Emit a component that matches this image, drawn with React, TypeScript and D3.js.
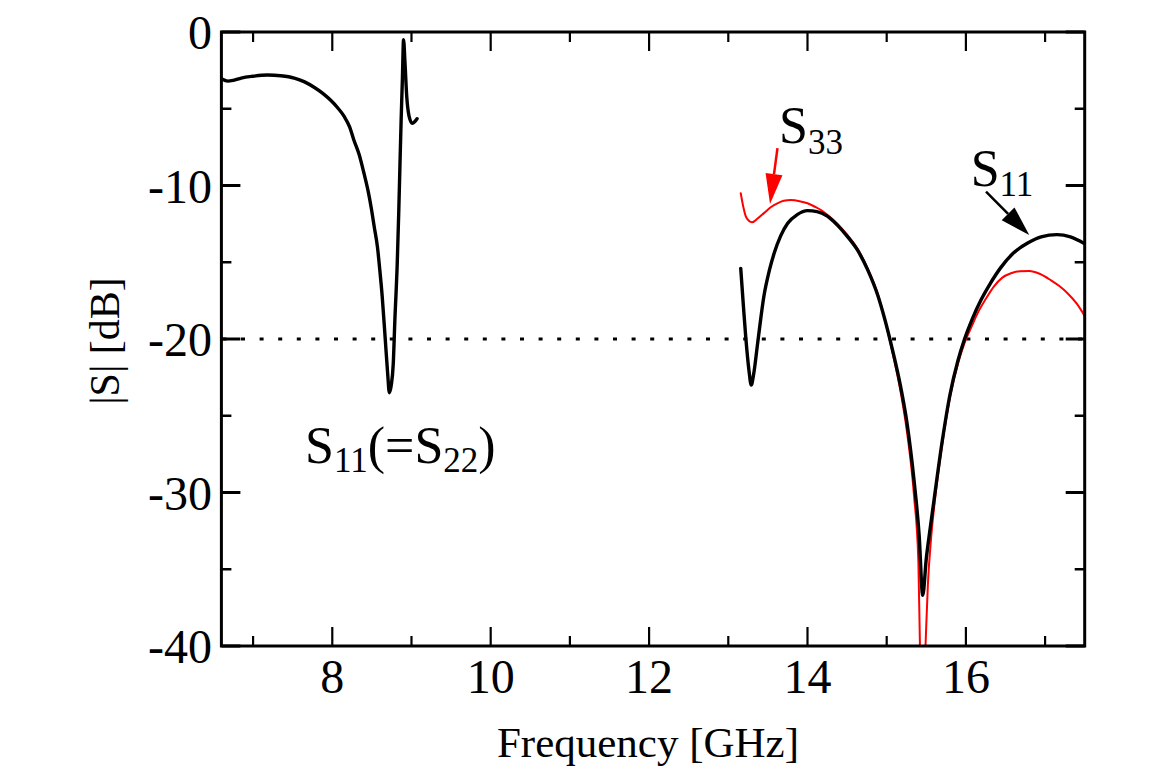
import React from 'react';
import * as d3 from 'd3';

// ---- axis definitions ----
const FREQ_DOMAIN: [number, number] = [6.6, 17.5];
const DB_DOMAIN: [number, number] = [-40, 0];
const X_MAJOR_TICKS = [8, 10, 12, 14, 16];
const X_MINOR_TICKS = [7, 9, 11, 13, 15, 17];
const Y_MAJOR_TICKS = [0, -10, -20, -30, -40];
const Y_MINOR_TICKS = [-5, -15, -25, -35];
const REF_LEVEL = -20;

// ---- S11 (=S22), low band ----
const s11LowFreq = [6.60, 6.68, 6.75, 6.85, 7.0, 7.18, 7.35, 7.52, 7.65, 7.77, 7.88, 7.98, 8.07, 8.15, 8.22, 8.27, 8.34, 8.40, 8.45, 8.49, 8.53, 8.57, 8.60, 8.63, 8.67, 8.70, 8.72, 8.745, 8.77, 8.79, 8.82, 8.84, 8.855, 8.87, 8.885, 8.90, 8.918, 8.94, 8.97, 9.01, 9.04, 9.07];
const s11LowDb = [-3.05, -3.2, -3.15, -3.0, -2.88, -2.8, -2.85, -3.0, -3.25, -3.6, -4.0, -4.45, -4.95, -5.5, -6.2, -7.0, -8.0, -9.2, -10.3, -11.4, -12.7, -14.0, -15.5, -17.2, -20.1, -22.3, -23.5, -23.0, -21.6, -18.8, -15.1, -11.6, -8.55, -5.6, -3.1, -0.5, -2.0, -4.2, -5.5, -5.95, -5.85, -5.65];

// ---- S11, high band ----
const s11HighFreq = [13.157, 13.19, 13.22, 13.26, 13.29, 13.32, 13.37, 13.45, 13.52, 13.58, 13.66, 13.75, 13.87, 14.0, 14.12, 14.25, 14.38, 14.5, 14.63, 14.76, 14.89, 14.97, 15.04, 15.10, 15.16, 15.26, 15.345, 15.41, 15.455, 15.50, 15.55, 15.60, 15.70, 15.80, 15.90, 15.98, 16.08, 16.19, 16.30, 16.44, 16.60, 16.78, 16.95, 17.15, 17.32, 17.5];
const s11HighDb = [-15.4, -17.8, -19.85, -22.0, -23.0, -22.3, -20.3, -17.2, -15.5, -14.4, -13.3, -12.46, -11.9, -11.64, -11.7, -12.0, -12.6, -13.3, -14.2, -15.5, -17.2, -18.6, -20.0, -21.3, -22.7, -25.6, -29.2, -32.8, -36.7, -34.3, -32.3, -30.4, -26.7, -23.6, -21.4, -20.05, -18.7, -17.46, -16.45, -15.35, -14.4, -13.75, -13.35, -13.2, -13.35, -13.8];

// ---- S33 ----
const s33Freq = [13.157, 13.19, 13.22, 13.26, 13.30, 13.37, 13.45, 13.54, 13.62, 13.70, 13.79, 13.90, 14.0, 14.1, 14.17, 14.25, 14.38, 14.5, 14.63, 14.76, 14.89, 14.97, 15.04, 15.10, 15.16, 15.26, 15.345, 15.40, 15.42, 15.455, 15.49, 15.52, 15.56, 15.60, 15.70, 15.80, 15.90, 15.98, 16.08, 16.15, 16.25, 16.35, 16.46, 16.57, 16.68, 16.80, 16.93, 17.07, 17.18, 17.28, 17.4, 17.5];
const s33Db = [-10.5, -11.4, -12.0, -12.3, -12.4, -12.15, -11.8, -11.4, -11.16, -11.0, -10.95, -11.02, -11.16, -11.4, -11.6, -11.9, -12.5, -13.2, -14.1, -15.4, -17.1, -18.6, -20.1, -21.5, -23.0, -26.2, -30.2, -34.5, -40.0, -45.0, -40.0, -36.0, -33.0, -30.9, -26.9, -23.8, -21.6, -20.3, -19.1, -18.3, -17.4, -16.6, -16.0, -15.72, -15.58, -15.57, -15.75, -16.16, -16.55, -17.0, -17.7, -18.5];

export default function App() {
  const W = 1156, H = 769;
  const x = d3.scaleLinear().domain(FREQ_DOMAIN).range([221.4, 1084.7]);
  const y = d3.scaleLinear().domain(DB_DOMAIN).range([646, 32]);
  const [x0, x1] = x.range();
  const [y0, y1] = [y(0), y(-40)];

  const line = d3.line<[number, number]>()
    .x(d => x(d[0]))
    .y(d => y(d[1]))
    .curve(d3.curveMonotoneX);

  const zip = (a: number[], b: number[]) => a.map((v, i) => [v, b[i]] as [number, number]);

  const major = 19, minor = 10;
  const serif = '"Liberation Serif", "Times New Roman", serif';

  const arrowHead = (sx: number, sy: number, tx: number, ty: number, len: number, wid: number) => {
    const dx = tx - sx, dy = ty - sy;
    const L = Math.hypot(dx, dy);
    const ux = dx / L, uy = dy / L;
    const bx = tx - ux * len, by = ty - uy * len;
    const px = -uy * wid / 2, py = ux * wid / 2;
    return {
      base: [bx, by],
      pts: `${tx},${ty} ${bx + px},${by + py} ${bx - px},${by - py}`,
    };
  };

  // annotation arrows (in data coordinates)
  const redA = { s: [13.621, -7.56], t: [13.527, -11.2] };
  const blkA = { s: [16.254, -10.4], t: [16.80, -13.23] };
  const rA = arrowHead(x(redA.s[0]), y(redA.s[1]), x(redA.t[0]), y(redA.t[1]), 30, 17);
  const bA = arrowHead(x(blkA.s[0]), y(blkA.s[1]), x(blkA.t[0]), y(blkA.t[1]), 30, 18);

  return (
    <svg width={W} height={H} style={{ position: 'absolute', left: 0, top: 0, background: '#fff' }}
      fontFamily={serif}>
      <defs>
        <clipPath id="plotClip">
          <rect x={x0} y={y0} width={x1 - x0} height={y1 - y0} />
        </clipPath>
      </defs>

      {/* reference dotted line */}
      <line x1={x0} x2={x1} y1={y(REF_LEVEL)} y2={y(REF_LEVEL)} stroke="#000" strokeWidth={3}
        strokeDasharray="4 14.6" strokeDashoffset={-1} />

      {/* curves */}
      <g clipPath="url(#plotClip)" fill="none" strokeLinejoin="round" strokeLinecap="round">
        <path d={line(zip(s33Freq, s33Db)) || ''} stroke="#ff0000" strokeWidth={2} />
        <path d={line(zip(s11LowFreq, s11LowDb)) || ''} stroke="#000" strokeWidth={3.4} />
        <path d={line(zip(s11HighFreq, s11HighDb)) || ''} stroke="#000" strokeWidth={3.4} />
      </g>

      {/* frame */}
      <rect x={x0} y={y0} width={x1 - x0} height={y1 - y0} fill="none" stroke="#000" strokeWidth={3} />

      {/* x ticks bottom and top */}
      {X_MAJOR_TICKS.map(t => (
        <g key={'xm' + t}>
          <line x1={x(t)} x2={x(t)} y1={y1} y2={y1 - major} stroke="#000" strokeWidth={2.2} />
          <line x1={x(t)} x2={x(t)} y1={y0} y2={y0 + major} stroke="#000" strokeWidth={2.2} />
          <text x={x(t)} y={693} textAnchor="middle" fontSize={48} fill="#000">{t}</text>
        </g>
      ))}
      {X_MINOR_TICKS.map(t => (
        <g key={'xn' + t}>
          <line x1={x(t)} x2={x(t)} y1={y1} y2={y1 - minor} stroke="#000" strokeWidth={2.2} />
          <line x1={x(t)} x2={x(t)} y1={y0} y2={y0 + minor} stroke="#000" strokeWidth={2.2} />
        </g>
      ))}

      {/* y ticks left and right */}
      {Y_MAJOR_TICKS.map(t => (
        <g key={'ym' + t}>
          <line x1={x0} x2={x0 + major} y1={y(t)} y2={y(t)} stroke="#000" strokeWidth={3} />
          <line x1={x1} x2={x1 - major} y1={y(t)} y2={y(t)} stroke="#000" strokeWidth={3} />
          <text x={212} y={y(t) + 17} textAnchor="end" fontSize={48} fill="#000">{String(t)}</text>
        </g>
      ))}
      {Y_MINOR_TICKS.map(t => (
        <g key={'yn' + t}>
          <line x1={x0} x2={x0 + minor} y1={y(t)} y2={y(t)} stroke="#000" strokeWidth={2.5} />
          <line x1={x1} x2={x1 - minor} y1={y(t)} y2={y(t)} stroke="#000" strokeWidth={2.5} />
        </g>
      ))}

      {/* axis titles */}
      <text x={648} y={757} textAnchor="middle" fontSize={43} fill="#000">Frequency [GHz]</text>
      <text transform="translate(119,341) rotate(-90)" textAnchor="middle" fontSize={42} fill="#000">|S| [dB]</text>

      {/* annotations */}
      <line x1={x(redA.s[0])} y1={y(redA.s[1])} x2={rA.base[0]} y2={rA.base[1]} stroke="#ff0000" strokeWidth={2.5} />
      <polygon points={rA.pts} fill="#ff0000" />
      <line x1={x(blkA.s[0])} y1={y(blkA.s[1])} x2={bA.base[0]} y2={bA.base[1]} stroke="#000" strokeWidth={2.5} />
      <polygon points={bA.pts} fill="#000" />

      <text x={x(13.64)} y={y(-7.23)} fontSize={52} fill="#000">
        S<tspan fontSize={35} dy={11}>33</tspan>
      </text>
      <text x={x(16.06)} y={y(-10.03)} fontSize={52} fill="#000">
        S<tspan fontSize={35} dy={10}>11</tspan>
      </text>
      <text x={x(7.657)} y={y(-28.08)} fontSize={52} fill="#000">
        S<tspan fontSize={35} dy={9}>11</tspan><tspan dy={-9}>(=S</tspan><tspan fontSize={35} dy={9}>22</tspan><tspan dy={-9}>)</tspan>
      </text>
    </svg>
  );
}
